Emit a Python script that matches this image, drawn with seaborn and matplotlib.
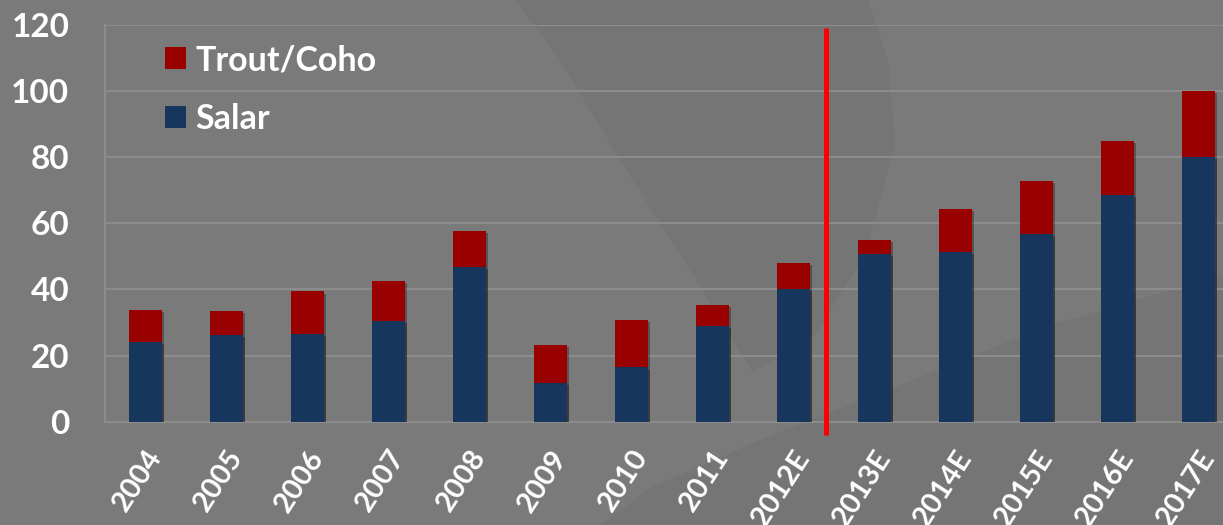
import matplotlib
matplotlib.use("Agg")
import matplotlib.pyplot as plt
import seaborn as sns
import numpy as np
from matplotlib.patches import Polygon, Rectangle
from matplotlib import patheffects as pe

# ---- data -------------------------------------------------------------
years = ["2004", "2005", "2006", "2007", "2008", "2009", "2010", "2011",
         "2012E", "2013E", "2014E", "2015E", "2016E", "2017E"]
salar = [24.2, 26.2, 26.5, 30.5, 46.9, 11.8, 16.4, 28.9,
         40.1, 50.7, 51.3, 56.8, 68.5, 80.0]
trout_coho = [9.6, 7.4, 12.9, 12.1, 10.7, 11.3, 14.3, 6.5,
              8.0, 4.3, 13.0, 16.0, 16.3, 20.0]
y_ticks = [0, 20, 40, 60, 80, 100, 120]
series_names = ["Trout/Coho", "Salar"]
first_forecast = "2013E"

# ---- style -------------------------------------------------------------
BG = "#7a7a7a"
SHADE = "#757575"
GRID = "#8c8c8c"
NAVY = "#17365d"
DARK_RED = "#990000"
LINE_RED = "#ff0000"

sns.set_style("white")
plt.rcParams["font.family"] = ["Lato", "DejaVu Sans"]
plt.rcParams["font.weight"] = "bold"

W, H = 1223, 525
fig = plt.figure(figsize=(W / 100, H / 100), dpi=100, facecolor=BG)


def px(x, y):
    """pixel (from top-left) -> figure fraction"""
    return (x / W, 1 - y / H)


# faint swirl watermark in the background
crescent = [(515, 0), (560, 60), (620, 160), (690, 270), (753, 372),
            (815, 335), (865, 255), (895, 145), (888, 60), (868, 0)]
wedge = [(600, 525), (650, 488), (760, 440), (900, 385), (1050, 325),
         (1223, 275), (1223, 525)]
for shape in (crescent, wedge):
    fig.patches.append(Polygon([px(*p) for p in shape], closed=True,
                               transform=fig.transFigure, facecolor=SHADE,
                               edgecolor="none", zorder=-5))

# plot area
left, right = 105, 1239
top, base = 25, 421.7
ax = fig.add_axes([left / W, (H - base) / H, (right - left) / W, (base - top) / H])
ax.set_facecolor("none")
ax.set_zorder(1)

x = np.arange(len(years))
totals = [s + t for s, t in zip(salar, trout_coho)]

shadow = [pe.SimplePatchShadow(offset=(1.5, -1.5), shadow_rgbFace="black", alpha=0.3),
          pe.Normal()]

sns.barplot(x=years, y=totals, color=DARK_RED, saturation=1, width=0.4,
            linewidth=0, ax=ax, zorder=3)
sns.barplot(x=years, y=salar, color=NAVY, saturation=1, width=0.4,
            linewidth=0, ax=ax, zorder=4)
for bar in ax.patches:
    bar.set_path_effects(shadow)

ax.set_xlim(-0.5, len(years) - 0.5)
ax.set_ylim(0, 120)
ax.set_xlabel("")
ax.set_ylabel("")

# grid, spines, ticks
ax.set_yticks(y_ticks)
ax.yaxis.grid(True, color=GRID, linewidth=1.5, zorder=0)
ax.set_axisbelow(True)
for side in ("top", "right"):
    ax.spines[side].set_visible(False)
for side in ("left", "bottom"):
    ax.spines[side].set_color(GRID)
    ax.spines[side].set_linewidth(1.5)

ax.tick_params(axis="y", which="major", length=8.6, width=1.5, color=GRID,
               pad=17, labelsize=24, labelcolor="white")
ax.set_xticks(x)
ax.set_xticks(np.arange(len(years) + 1) - 0.5, minor=True)
ax.tick_params(axis="x", which="major", length=0, pad=17, labelsize=21,
               labelcolor="white")
ax.tick_params(axis="x", which="minor", length=7, width=1.5, color=GRID)
for lab in ax.get_xticklabels():
    lab.set_rotation(57)
    lab.set_ha("right")
    lab.set_va("top")
    lab.set_rotation_mode("anchor")
    lab.set_fontweight("bold")
for lab in ax.get_yticklabels():
    lab.set_fontweight("bold")

# separator between actuals and estimates
sep = years.index(first_forecast) - 0.6
ax.plot([sep, sep], [119.1, -4.0], color=LINE_RED, linewidth=3.6,
        clip_on=False, zorder=6, solid_capstyle="butt")

# legend
handles = [Rectangle((0, 0), 1, 1, facecolor=DARK_RED, edgecolor="none"),
           Rectangle((0, 0), 1, 1, facecolor=NAVY, edgecolor="none")]
leg = ax.legend(handles, series_names, loc="upper left",
                bbox_to_anchor=px(165, 44), bbox_transform=fig.transFigure,
                frameon=False, borderpad=0, borderaxespad=0,
                handlelength=0.62, handleheight=0.62, handletextpad=0.28,
                labelspacing=0.78, prop={"size": 24.5, "weight": "bold"})
for t in leg.get_texts():
    t.set_color("white")

fig.savefig("out.png", dpi=100, facecolor=BG)
